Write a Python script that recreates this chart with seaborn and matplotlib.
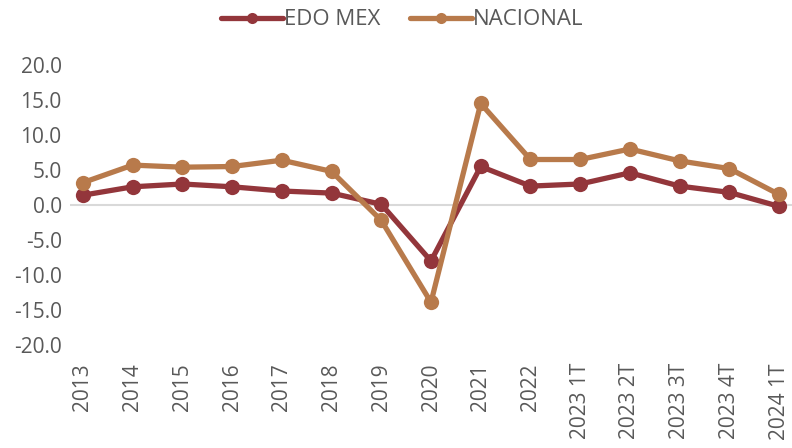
import numpy as np
import pandas as pd
import matplotlib
matplotlib.use("Agg")
import matplotlib.pyplot as plt
import seaborn as sb

# Data
periods = ["2013", "2014", "2015", "2016", "2017", "2018", "2019", "2020",
           "2021", "2022", "2023 1T", "2023 2T", "2023 3T", "2023 4T", "2024 1T"]
edo_mex = [1.4, 2.6, 3.0, 2.6, 2.0, 1.7, 0.1, -8.0, 5.5, 2.7, 3.0, 4.6, 2.7, 1.8, -0.2]
nacional = [3.2, 5.7, 5.4, 5.5, 6.4, 4.8, -2.2, -13.9, 14.5, 6.5, 6.5, 8.0, 6.3, 5.2, 1.5]
series_names = ["EDO MEX", "NACIONAL"]
colors = ["#93363B", "#B87A4B"]

df = pd.DataFrame({
    "idx": list(range(len(periods))) * 2,
    "valor": edo_mex + nacional,
    "serie": [series_names[0]] * len(periods) + [series_names[1]] * len(periods),
})

sb.set_style("white")
plt.rcParams['font.family'] = ['Open Sans', 'DejaVu Sans']

fig = plt.figure(figsize=(7.92, 4.48), dpi=100)
ax = fig.add_axes([70 / 792, 103 / 448, 722 / 792, 280 / 448])

ax.axhline(0, color="#D9D9D9", lw=1.5, zorder=0)
sb.lineplot(data=df, x="idx", y="valor", hue="serie", palette=colors,
            marker="o", markersize=11, linewidth=3.8, markeredgewidth=0,
            ax=ax, legend=True)

ax.set_xlim(-0.26, len(periods) - 1 + 0.26)
ax.set_ylim(-20, 20)
ax.set_yticks(np.arange(-20, 21, 5))
ax.set_yticklabels([f"{v:.1f}" for v in np.arange(-20, 21, 5)])
ax.set_xticks(range(len(periods)))
ax.set_xticklabels(periods, rotation=90)
ax.tick_params(axis="both", colors="#595959", labelsize=15, length=0)
ax.tick_params(axis="x", pad=13)
ax.tick_params(axis="y", pad=6)
ax.set_xlabel("")
ax.set_ylabel("")
for s in ax.spines.values():
    s.set_visible(False)

leg = ax.legend(loc="upper center", bbox_to_anchor=(0.46, 1.27), ncol=2,
                frameon=False, fontsize=16, handlelength=2.8, handletextpad=0.05,
                columnspacing=1.3, labelcolor="#595959")
for h in leg.legend_handles:
    h.set_markersize(8)

fig.savefig("out.png", dpi=100)
plt.close(fig)
